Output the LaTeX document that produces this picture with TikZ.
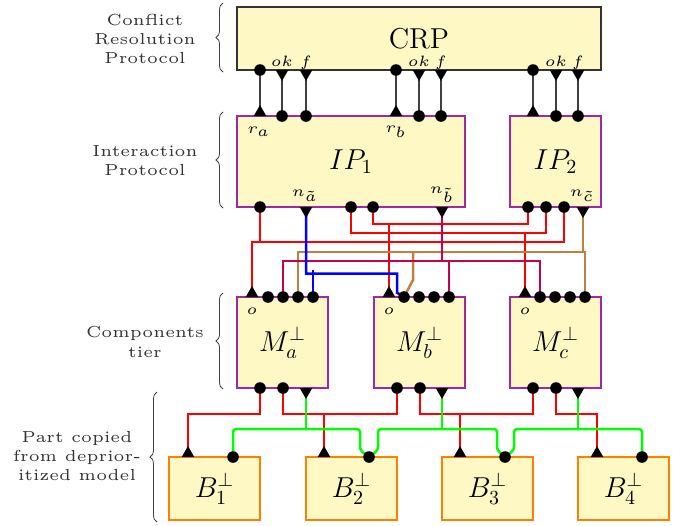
\documentclass[tikz,border=0pt]{standalone}
\usetikzlibrary{shapes.geometric, decorations.pathreplacing, backgrounds}
\definecolor{boxfill}{RGB}{253,248,196}
\definecolor{frame}{RGB}{160,40,160}
\definecolor{crimson}{RGB}{200,0,80}
\begin{document}
\begin{tikzpicture}[x=0.5pt, y=-0.5pt,
    blk/.style={rectangle, draw=#1, line width=0.55pt, fill=boxfill, inner sep=0pt, minimum width=45.5pt, minimum height=45.5pt, font=\Large},
    pdot/.style={circle, fill=black, inner sep=0pt, outer sep=0pt, minimum size=5.8pt},
    ptri/.style={regular polygon, regular polygon sides=3, fill=black, inner sep=0pt, outer sep=0pt, minimum size=7.3pt},
    tup/.style={ptri, anchor=south},
    tdown/.style={ptri, shape border rotate=180, anchor=north},
    plab/.style={font=\tiny, scale=1.5, transform shape, inner sep=0pt},
    tier/.style={align=center, font=\tiny, scale=1.6, transform shape, text=black!80},
    sig/.style={draw=black!75, thick},
    wire/.style={draw=#1, line width=1.25pt},
    tbrace/.style={draw=black!75, decorate, decoration={brace, amplitude=3.5pt}}
]
    \useasboundingbox (0,0) rectangle (688,525);

    % Tiers
    \node[tier] (tcrp) at (145,39) {Conflict\\Resolution\\Protocol};
    \node[tier] (tip) at (145,161) {Interaction\\Protocol};
    \node[tier] (tcomp) at (145,342) {Components\\tier};
    \node[tier] (tcopy) at (77,456) {Part copied\\from deprior-\\itized model};
    \draw[tbrace] (223,72) -- (223,3);
    \draw[tbrace] (223,208) -- (223,112);
    \draw[tbrace] (223,389) -- (223,293);
    \draw[tbrace] (157,522) -- (157,392);

    % Blocks
    \node[blk=black!80, minimum width=182pt, minimum height=31.5pt] (crp) at (419,38.5) {CRP};
    \node[blk=frame, minimum width=114pt] (ip1) at (351,161.5) {$IP_1$};
    \node[blk=frame] (ip2) at (555.5,161.5) {$IP_2$};
    \node[blk=frame] (ma) at (282.5,342.5) {$M_a^\bot$};
    \node[blk=frame] (mb) at (419.5,342.5) {$M_b^\bot$};
    \node[blk=frame] (mc) at (555.5,342.5) {$M_c^\bot$};
    \node[blk=orange, line width=0.7pt, minimum height=31.5pt] (b1) at (214.5,488.5) {$B_1^\bot$};
    \node[blk=orange, line width=0.7pt, minimum height=31.5pt] (b2) at (351.5,488.5) {$B_2^\bot$};
    \node[blk=orange, line width=0.7pt, minimum height=31.5pt] (b3) at (487.5,488.5) {$B_3^\bot$};
    \node[blk=orange, line width=0.7pt, minimum height=31.5pt] (b4) at (623.5,488.5) {$B_4^\bot$};

    % CRP ports
    \node[pdot] (cr1) at (260,70) {}; \node[tdown] (cok1) at (282,70) {}; \node[tdown] (cf1) at (306,70) {};
    \node[pdot] (cr2) at (396,70) {}; \node[tdown] (cok2) at (419,70) {}; \node[tdown] (cf2) at (441,70) {};
    \node[pdot] (cr3) at (533,70) {}; \node[tdown] (cok3) at (556,70) {}; \node[tdown] (cf3) at (578,70) {};

    % IP ports
    \node[tup] (ir1) at (260,116) {}; \node[pdot] (iok1) at (282,116) {}; \node[pdot] (if1) at (306,116) {};
    \node[tup] (ir2) at (396,116) {}; \node[pdot] (iok2) at (419,116) {}; \node[pdot] (if2) at (441,116) {};
    \node[tup] (ir3) at (533,116) {}; \node[pdot] (iok3) at (556,116) {}; \node[pdot] (if3) at (578,116) {};
    \node[pdot] (p1) at (260,207) {}; \node[tdown] (na) at (306,207) {};
    \node[pdot] (p2) at (351,207) {}; \node[pdot] (p3) at (373,207) {}; \node[tdown] (nb) at (442,207) {};
    \node[pdot] (q1) at (528,207) {}; \node[pdot] (q2) at (546,207) {};
    \node[pdot] (q3) at (564,207) {}; \node[tdown] (nc) at (583,207) {};

    % Component ports
    \node[tup] (oa) at (252,297) {}; \node[pdot] (ia1) at (268,297) {}; \node[pdot] (ia2) at (283,297) {};
    \node[pdot] (ia3) at (298,297) {}; \node[pdot] (ia4) at (313,297) {};
    \node[tup] (ob) at (389,297) {}; \node[pdot] (ib1) at (404,297) {}; \node[pdot] (ib2) at (419,297) {};
    \node[pdot] (ib3) at (434,297) {}; \node[pdot] (ib4) at (449,297) {};
    \node[tup] (oc) at (525,297) {}; \node[pdot] (ic1) at (540,297) {}; \node[pdot] (ic2) at (555,297) {};
    \node[pdot] (ic3) at (570,297) {}; \node[pdot] (ic4) at (585,297) {};
    \node[pdot] (ma1) at (260,388) {}; \node[pdot] (ma2) at (283,388) {}; \node[tdown] (ma3) at (306,388) {};
    \node[pdot] (mb1) at (397,388) {}; \node[pdot] (mb2) at (420,388) {}; \node[tdown] (mb3) at (442,388) {};
    \node[pdot] (mc1) at (533,388) {}; \node[pdot] (mc2) at (556,388) {}; \node[tdown] (mc3) at (578,388) {};

    % Copied part ports
    \node[tup] (t1) at (188,457) {}; \node[pdot] (u1) at (233,457) {};
    \node[tup] (t2) at (324,457) {}; \node[pdot] (u2) at (369,457) {};
    \node[tup] (t3) at (460,457) {}; \node[pdot] (u3) at (505,457) {};
    \node[tup] (t4) at (597,457) {}; \node[pdot] (u4) at (642,457) {};

    % Port labels
    \node[plab, anchor=base] (lok1) at (282,66) {$ok$}; \node[plab, anchor=base] (lf1) at (306,66) {$f$};
    \node[plab, anchor=base] (lok2) at (419,66) {$ok$}; \node[plab, anchor=base] (lf2) at (441,66) {$f$};
    \node[plab, anchor=base] (lok3) at (556,66) {$ok$}; \node[plab, anchor=base] (lf3) at (578,66) {$f$};
    \node[plab] (lra) at (259,132) {$r_a$};
    \node[plab] (lrb) at (396,132) {$r_b$};
    \node[plab] (lna) at (305,196) {$n_{\tilde a}$};
    \node[plab] (lnb) at (442,195) {$n_{\tilde b}$};
    \node[plab] (lnc) at (582,196) {$n_{\tilde c}$};
    \node[plab] (loa) at (252,311) {$o$};
    \node[plab] (lob) at (389,311) {$o$};
    \node[plab] (loc) at (525,311) {$o$};

    % Bus levels
    \coordinate (h1) at (0,224); \coordinate (h2) at (0,233); \coordinate (h3) at (0,242);
    \coordinate (h4) at (0,252); \coordinate (h5) at (0,261); \coordinate (h6) at (0,270);
    \coordinate (h7) at (0,414); \coordinate (h8) at (0,429);

    \begin{pgfonlayer}{background}
    % CRP <-> IP
    \draw[sig] (cr1.center) -- (ir1.center) (cok1.center) -- (iok1.center) (cf1.center) -- (if1.center)
               (cr2.center) -- (ir2.center) (cok2.center) -- (iok2.center) (cf2.center) -- (if2.center)
               (cr3.center) -- (ir3.center) (cok3.center) -- (iok3.center) (cf3.center) -- (if3.center);

    % IP <-> components
    \draw[wire=red] (oa.center) |- (q3.center |- h3) -- (q3.center);
    \draw[wire=red] (p1.center) -- (p1.center |- h3);
    \draw[wire=red] (p2.center) |- (q2.center |- h2) -- (q2.center);
    \draw[wire=red] (oc.center) -- (oc.center |- h2);
    \draw[wire=red] (p3.center) |- (q1.center |- h1) -- (q1.center);
    \draw[wire=red] (ob.center) -- (ob.center |- h1);
    \draw[wire=brown] (ia3.center) |- (ic4.center |- h4) -- (ic4.center);
    \draw[wire=brown] (nc.center) -- (nc.center |- h4);
    \draw[wire=brown] (ib1.center) -- ++(9,-17) -- ++(0,-28);
    \draw[wire=crimson] (ia2.center) |- (ic1.center |- h5) -- (ic1.center);
    \draw[wire=crimson] (nb.center) -- (nb.center |- h5);
    \draw[wire=crimson] (ib4.center) -- (ib4.center |- h5);
    \draw[wire=blue] (na.center) |- ++(91,63) -- ++(0,19) -- (ib1.center);
    \draw[wire=blue] (ia4.center) -- (ia4.center |- h6);

    % components <-> copied part
    \draw[wire=red] (ma1.center) |- (t1.center |- h7) -- (t1.center);
    \draw[wire=red] (ma2.center) |- (mb1.center |- h7) -- (mb1.center);
    \draw[wire=red] (t2.center) -- (t2.center |- h7);
    \draw[wire=red] (mb2.center) |- (mc1.center |- h7) -- (mc1.center);
    \draw[wire=red] (t3.center) -- (t3.center |- h7);
    \draw[wire=red] (mc2.center) |- (t4.center |- h7) -- (t4.center);
    \draw[wire=green, rounded corners=1.5pt] (u1.center) |- ++(127,-28) -- ++(0,21) -- (u2.center)
        -- ++(9,-7) |- ++(119,-21) -- ++(0,21) -- (u3.center) -- ++(9,-7) |- (u4.center |- h8) -- (u4.center);
    \draw[wire=green] (ma3.center) -- (ma3.center |- h8);
    \draw[wire=green] (mb3.center) -- (mb3.center |- h8);
    \draw[wire=green] (mc3.center) -- (mc3.center |- h8);
    \end{pgfonlayer}
\end{tikzpicture}
\end{document}
